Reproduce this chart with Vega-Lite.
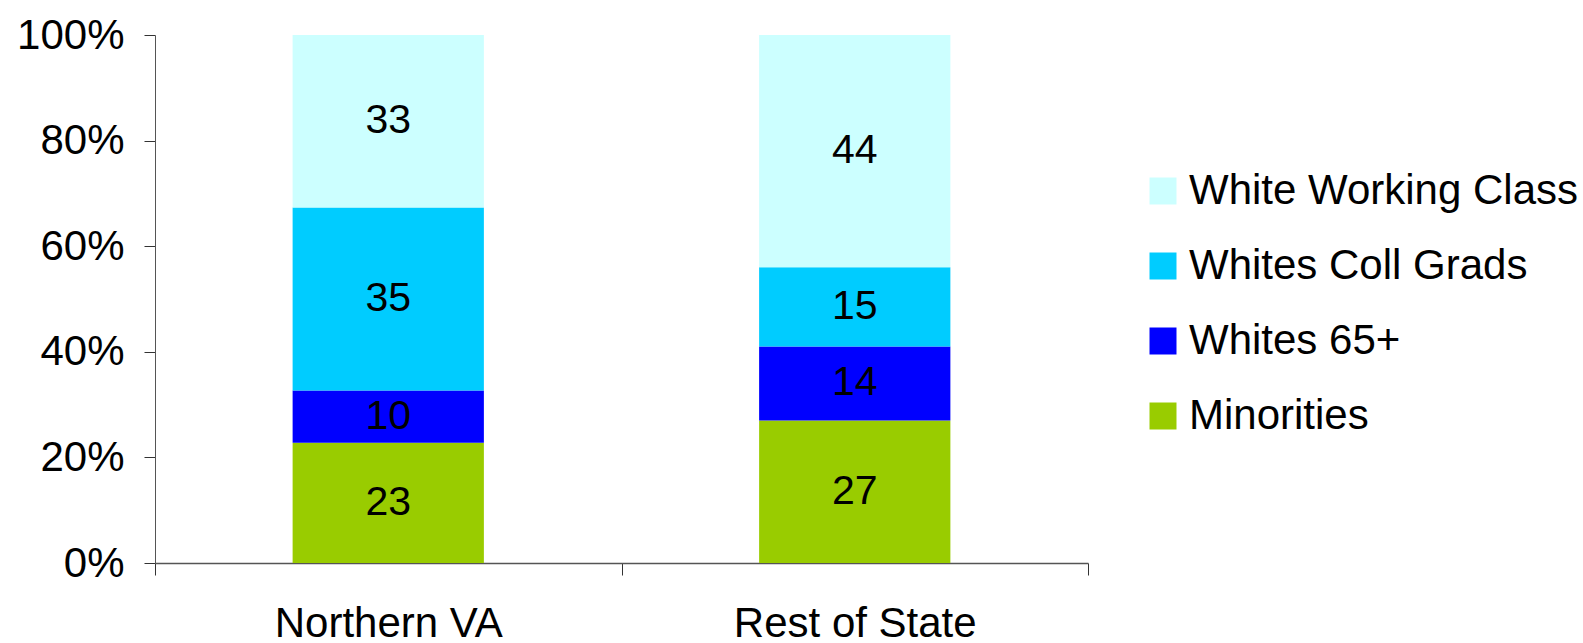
{
  "$schema": "https://vega.github.io/schema/vega-lite/v6.json",
  "width": 933,
  "height": 528,
  "autosize": {"type": "none"},
  "padding": {"left": 155, "top": 35, "right": 495, "bottom": 80},
  "background": "white",
  "config": {
    "view": {"stroke": null},
    "font": "Liberation Sans"
  },
  "data": {
    "values": [
      {"region": "Northern VA", "group": "Minorities", "k": 1, "value": 23},
      {"region": "Northern VA", "group": "Whites 65+", "k": 2, "value": 10},
      {"region": "Northern VA", "group": "Whites Coll Grads", "k": 3, "value": 35},
      {"region": "Northern VA", "group": "White Working Class", "k": 4, "value": 33},
      {"region": "Rest of State", "group": "Minorities", "k": 1, "value": 27},
      {"region": "Rest of State", "group": "Whites 65+", "k": 2, "value": 14},
      {"region": "Rest of State", "group": "Whites Coll Grads", "k": 3, "value": 15},
      {"region": "Rest of State", "group": "White Working Class", "k": 4, "value": 44}
    ]
  },
  "encoding": {
    "x": {
      "field": "region",
      "type": "nominal",
      "sort": null,
      "scale": {"paddingInner": 0, "paddingOuter": 0},
      "axis": {
        "title": null,
        "labelAngle": 0,
        "labelFontSize": 42,
        "labelColor": "black",
        "labelPadding": 28,
        "labelLimit": 600,
        "tickBand": "extent",
        "tickSize": 12,
        "tickColor": "#333",
        "domainColor": "#555",
        "domainWidth": 1.5
      }
    },
    "order": {"field": "k", "type": "quantitative", "sort": "ascending"}
  },
  "layer": [
    {
      "mark": {"type": "bar", "width": {"band": 0.41}},
      "encoding": {
        "y": {
          "field": "value",
          "type": "quantitative",
          "stack": "normalize",
          "scale": {"domain": [0, 1]},
          "axis": {
            "title": null,
            "format": ".0%",
            "values": [0, 0.2, 0.4, 0.6, 0.8, 1],
            "grid": false,
            "labelFontSize": 42,
            "labelColor": "black",
            "labelPadding": 20,
            "tickSize": 11,
            "tickColor": "#333",
            "domainColor": "#555"
          }
        },
        "color": {
          "field": "group",
          "type": "nominal",
          "scale": {
            "domain": ["White Working Class", "Whites Coll Grads", "Whites 65+", "Minorities"],
            "range": ["#CCFFFF", "#00CCFF", "#0000FF", "#99CC00"]
          },
          "legend": {
            "title": null,
            "orient": "none",
            "legendX": 987,
            "legendY": 135,
            "symbolType": "square",
            "symbolSize": 729,
            "symbolStrokeWidth": 0,
            "symbolOpacity": 1,
            "labelFontSize": 42,
            "labelColor": "black",
            "labelOffset": 5,
            "rowPadding": 33,
            "labelLimit": 600
          }
        }
      }
    },
    {
      "mark": {"type": "text", "fontSize": 41, "color": "black", "baseline": "middle"},
      "encoding": {
        "y": {
          "field": "value",
          "type": "quantitative",
          "stack": "normalize",
          "bandPosition": 0.5
        },
        "text": {"field": "value", "type": "quantitative"}
      }
    }
  ]
}
